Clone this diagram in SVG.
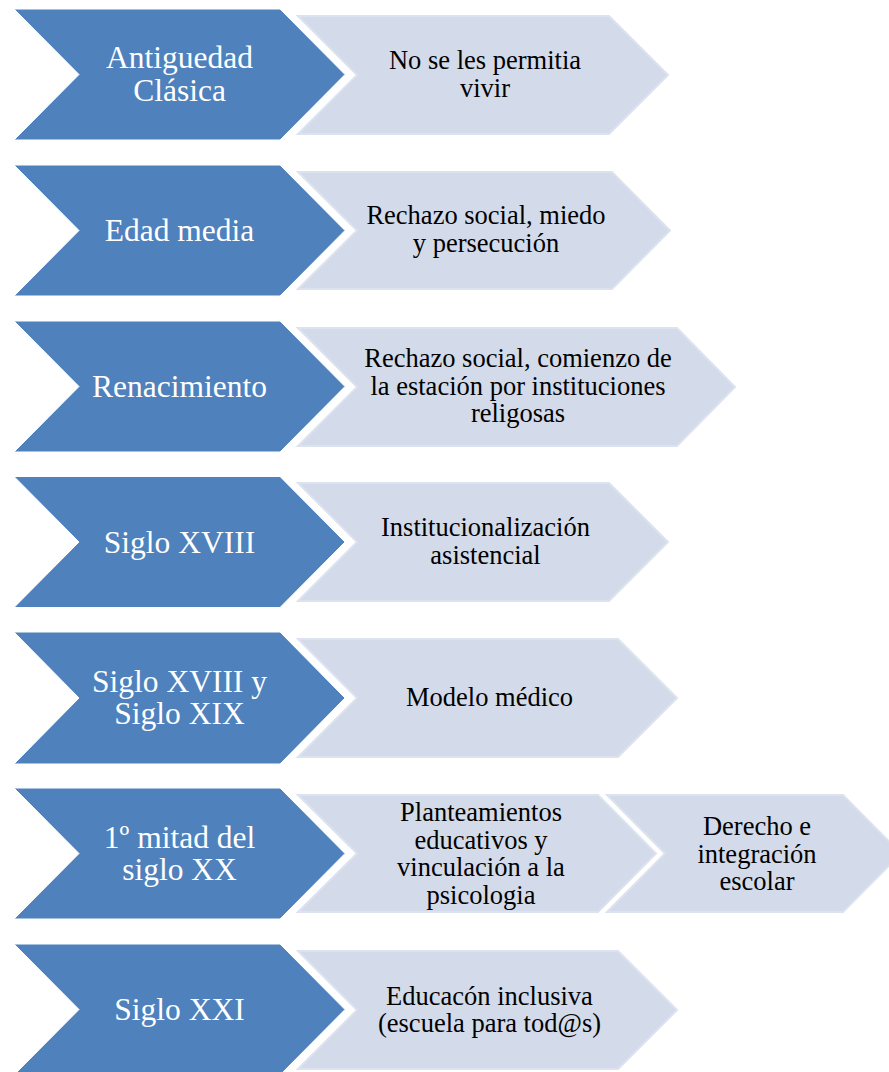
<svg xmlns="http://www.w3.org/2000/svg" width="889" height="1072" viewBox="0 0 889 1072">
<style>
.blue{fill:#4F81BD;stroke:#FFFFFF;stroke-width:1}
.light{fill:#D3DAE9;stroke:#DCE2EE;stroke-width:2}
.bt{font-family:"Liberation Serif","Times New Roman",serif;font-size:31.5px;fill:#FFFFFF;text-anchor:middle}
.lt{font-family:"Liberation Serif","Times New Roman",serif;font-size:26.5px;fill:#000000;text-anchor:middle}
</style>
<rect x="0" y="0" width="889" height="1072" fill="#FFFFFF"/>
<g id="connectors"/>

<g id="row1">
<polygon class="blue" points="14,9 280,9 345,74.5 280,140 14,140 79,74.5"/>
<text class="bt" x="179.5"><tspan x="179.5" y="67.5">Antiguedad</tspan><tspan x="179.5" y="100.5">Clásica</tspan></text>
<polygon class="light" points="298,16 609,16 668,75 609,134 298,134 357,75"/>
<text class="lt"><tspan x="485" y="69">No se les permitia</tspan><tspan x="485" y="97">vivir</tspan></text>
</g>

<g id="row2">
<polygon class="blue" points="14,165 280,165 345,230.5 280,296 14,296 79,230.5"/>
<text class="bt" x="179.5" y="241">Edad media</text>
<polygon class="light" points="298,172 612,172 670,230.5 612,289 298,289 357,230.5"/>
<text class="lt"><tspan x="486" y="224">Rechazo social, miedo</tspan><tspan x="486" y="251.5">y persecución</tspan></text>
</g>

<g id="row3">
<polygon class="blue" points="14,321 280,321 345,386.5 280,452 14,452 79,386.5"/>
<text class="bt" x="179.5" y="397">Renacimiento</text>
<polygon class="light" points="298,328 677,328 735,387 677,446 298,446 357,387"/>
<text class="lt"><tspan x="518" y="367">Rechazo social, comienzo de</tspan><tspan x="518" y="394.5">la estación por instituciones</tspan><tspan x="518" y="422">religosas</tspan></text>
</g>

<g id="row4">
<polygon class="blue" points="14,476.5 280,476.5 345,542 280,607.5 14,607.5 79,542"/>
<text class="bt" x="179.5" y="552.5">Siglo XVIII</text>
<polygon class="light" points="298,483 609,483 668,542 609,601 298,601 357,542"/>
<text class="lt"><tspan x="485.5" y="536">Institucionalización</tspan><tspan x="485.5" y="563.5">asistencial</tspan></text>
</g>

<g id="row5">
<polygon class="blue" points="14,632 280,632 345,698 280,764 14,764 79,698"/>
<text class="bt"><tspan x="179.5" y="691.5">Siglo XVIII y</tspan><tspan x="179.5" y="723.5">Siglo XIX</tspan></text>
<polygon class="light" points="298,639 618,639 677,698 618,757 298,757 357,698"/>
<text class="lt" x="489.5" y="705.5">Modelo médico</text>
</g>

<g id="row6">
<polygon class="blue" points="14,788 280,788 345,853.5 280,919 14,919 79,853.5"/>
<text class="bt"><tspan x="179.5" y="848">1º mitad del</tspan><tspan x="179.5" y="880">siglo XX</tspan></text>
<polygon class="light" points="298,795 598,795 656,853.5 598,912 298,912 357,853.5"/>
<text class="lt"><tspan x="481" y="821">Planteamientos</tspan><tspan x="481" y="848.5">educativos y</tspan><tspan x="481" y="876">vinculación a la</tspan><tspan x="481" y="903.5">psicologia</tspan></text>
<polygon class="light" points="607,795 843,795 901,853.5 843,912 607,912 665,853.5"/>
<text class="lt"><tspan x="757" y="835">Derecho e</tspan><tspan x="757" y="862.5">integración</tspan><tspan x="757" y="890">escolar</tspan></text>
</g>

<g id="row7">
<polygon class="blue" points="14,944 280,944 345,1009.5 280,1075 14,1075 79,1009.5"/>
<text class="bt" x="179.5" y="1019.5">Siglo XXI</text>
<polygon class="light" points="298,951 618,951 677,1010 618,1069 298,1069 357,1010"/>
<text class="lt"><tspan x="489.5" y="1004.5">Educacón inclusiva</tspan><tspan x="489.5" y="1032">(escuela para tod@s)</tspan></text>
</g>
</svg>
